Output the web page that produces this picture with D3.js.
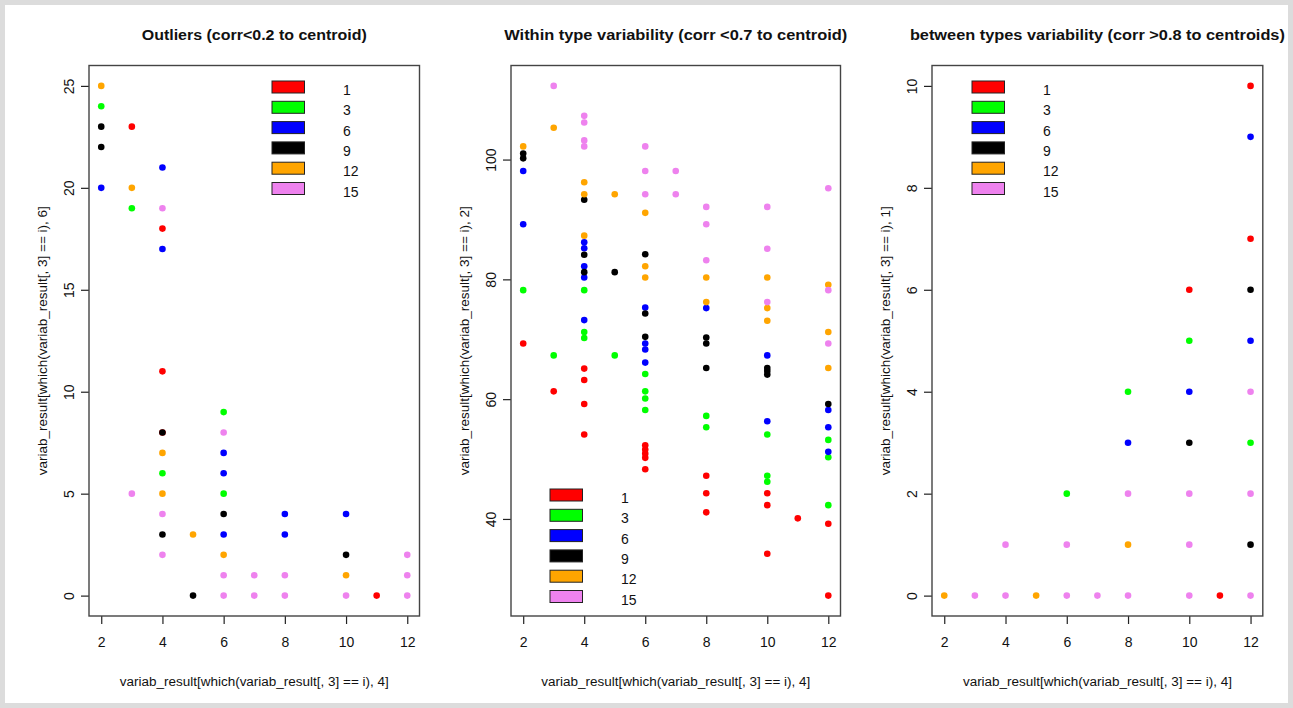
<!DOCTYPE html>
<html>
<head>
<meta charset="utf-8">
<script src="https://cdn.jsdelivr.net/npm/d3@7"></script>
<style>
body { margin: 0; background: #dcdcdc; }
svg { display: block; font-family: "Liberation Sans", Arial, sans-serif; }
</style>
</head>
<body>
<div id="chart"></div>
<script>
var types = [1, 3, 6, 9, 12, 15]
var typeColors = ["#ff0000", "#00ff00", "#0000ff", "#000000", "#ffa500", "#ee82ee"]
var xTicks = [2, 4, 6, 8, 10, 12]

// each row: [type, x, y]
var outlierPoints = [
    [1, 3, 23], [1, 4, 18], [1, 4, 11], [1, 4, 8], [1, 11, 0],
    [3, 2, 24], [3, 3, 19], [3, 4, 6], [3, 6, 9], [3, 6, 5],
    [6, 2, 20], [6, 4, 21], [6, 4, 17], [6, 6, 7], [6, 6, 6], [6, 6, 3], [6, 8, 4], [6, 8, 3], [6, 10, 4],
    [9, 2, 23], [9, 2, 22], [9, 4, 8], [9, 4, 3], [9, 5, 0], [9, 6, 4], [9, 10, 2],
    [12, 2, 25], [12, 3, 20], [12, 4, 7], [12, 4, 5], [12, 5, 3], [12, 6, 2], [12, 10, 1],
    [15, 3, 5], [15, 4, 19], [15, 4, 4], [15, 4, 2], [15, 6, 8], [15, 6, 1], [15, 6, 0], [15, 7, 1], [15, 7, 0],
    [15, 8, 1], [15, 8, 0], [15, 10, 0], [15, 12, 2], [15, 12, 1], [15, 12, 0]
]

var withinPoints = [
    [1, 2, 69.3], [1, 3, 61.3], [1, 4, 65.1], [1, 4, 63.2], [1, 4, 59.2], [1, 4, 54.1],
    [1, 6, 52.3], [1, 6, 51.6], [1, 6, 50.9], [1, 6, 50.2], [1, 6, 48.3],
    [1, 8, 47.2], [1, 8, 44.3], [1, 8, 41.1], [1, 10, 44.3], [1, 10, 42.3], [1, 10, 34.2],
    [1, 11, 40.1], [1, 12, 39.2], [1, 12, 27.2],
    [3, 2, 78.2], [3, 3, 67.3], [3, 4, 78.2], [3, 4, 71.2], [3, 4, 70.2], [3, 5, 67.3],
    [3, 6, 64.2], [3, 6, 61.3], [3, 6, 60.1], [3, 6, 58.2], [3, 8, 57.2], [3, 8, 55.3],
    [3, 10, 54.1], [3, 10, 47.2], [3, 10, 46.2], [3, 12, 53.2], [3, 12, 50.3], [3, 12, 42.3],
    [6, 2, 98.1], [6, 2, 89.2], [6, 4, 86.2], [6, 4, 85.2], [6, 4, 82.2], [6, 4, 80.3], [6, 4, 73.2],
    [6, 6, 75.3], [6, 6, 69.3], [6, 6, 68.3], [6, 6, 66.1], [6, 8, 75.2], [6, 10, 67.3], [6, 10, 56.3],
    [6, 12, 58.2], [6, 12, 55.3], [6, 12, 51.2],
    [9, 2, 101.0], [9, 2, 100.2], [9, 4, 93.3], [9, 4, 84.1], [9, 4, 81.2], [9, 5, 81.2],
    [9, 6, 84.2], [9, 6, 74.3], [9, 6, 70.4], [9, 8, 70.3], [9, 8, 69.3], [9, 8, 65.2],
    [9, 10, 65.2], [9, 10, 64.7], [9, 10, 64.1], [9, 12, 59.2],
    [12, 2, 102.2], [12, 3, 105.3], [12, 4, 96.2], [12, 4, 94.2], [12, 4, 87.3], [12, 5, 94.2],
    [12, 6, 91.1], [12, 6, 82.2], [12, 6, 80.3], [12, 8, 80.3], [12, 8, 76.2],
    [12, 10, 80.3], [12, 10, 75.2], [12, 10, 73.1], [12, 12, 79.1], [12, 12, 71.2], [12, 12, 65.2],
    [15, 3, 112.3], [15, 4, 107.3], [15, 4, 106.2], [15, 4, 103.2], [15, 4, 102.2],
    [15, 6, 102.2], [15, 6, 98.1], [15, 6, 94.2], [15, 7, 98.1], [15, 7, 94.2],
    [15, 8, 92.1], [15, 8, 89.2], [15, 8, 83.2], [15, 10, 92.1], [15, 10, 85.1], [15, 10, 76.2],
    [15, 12, 95.2], [15, 12, 78.2], [15, 12, 69.3]
]

var betweenPoints = [
    [1, 10, 6], [1, 11, 0], [1, 12, 10], [1, 12, 7],
    [3, 6, 2], [3, 8, 4], [3, 10, 5], [3, 12, 3],
    [6, 8, 3], [6, 10, 4], [6, 12, 9], [6, 12, 5],
    [9, 10, 3], [9, 12, 6], [9, 12, 1],
    [12, 2, 0], [12, 5, 0], [12, 8, 1],
    [15, 3, 0], [15, 4, 1], [15, 4, 0], [15, 6, 1], [15, 6, 0], [15, 7, 0], [15, 8, 2], [15, 8, 0],
    [15, 10, 2], [15, 10, 1], [15, 10, 0], [15, 12, 4], [15, 12, 2], [15, 12, 0]
]

var yTicksOutliers = [0, 5, 10, 15, 20, 25]
var yTicksWithin = [40, 60, 80, 100]
var yTicksBetween = [0, 2, 4, 6, 8, 10]

var panelTitles = [
    "Outliers (corr<0.2 to centroid)",
    "Within type variability (corr <0.7 to centroid)",
    "between types variability (corr >0.8 to centroids)"
]
var yLabels = [
    "variab_result[which(variab_result[, 3] == i), 6]",
    "variab_result[which(variab_result[, 3] == i), 2]",
    "variab_result[which(variab_result[, 3] == i), 1]"
]
var xLabel = "variab_result[which(variab_result[, 3] == i), 4]"

var width = 1293
var height = 708
var boxTop = 65.5
var boxBottom = 616

var panels = [
    {left: 89, right: 419.5, points: outlierPoints, yTicks: yTicksOutliers, legend: [272, 81], titleWidth: 225},
    {left: 511, right: 840.5, points: withinPoints, yTicks: yTicksWithin, legend: [550, 489], titleWidth: 343},
    {left: 932, right: 1262.8, points: betweenPoints, yTicks: yTicksBetween, legend: [972, 81], titleWidth: 375}
]

var svg = d3.select("#chart").append("svg")
    .attr("width", width)
    .attr("height", height)

svg.append("rect")
    .attr("x", 5).attr("y", 5)
    .attr("width", width - 10).attr("height", height - 10)
    .attr("fill", "#ffffff")

/**
 * R style range: data extent padded by 4% on each side
 */
function paddedDomain(values) {
    var ext = d3.extent(values)
    var pad = (ext[1] - ext[0]) * 0.04
    return [ext[0] - pad, ext[1] + pad]
}

/**
 * Draw one scatter panel
 */
function drawPanel(panel, idx) {
    var g = svg.append("g")
    var xScale = d3.scaleLinear()
        .domain(paddedDomain(panel.points.map(d => d[1])))
        .range([panel.left, panel.right])
    var yScale = d3.scaleLinear()
        .domain(paddedDomain(panel.points.map(d => d[2])))
        .range([boxBottom, boxTop])
    var color = d3.scaleOrdinal().domain(types).range(typeColors)
    var cx = (panel.left + panel.right) / 2

    // points, drawn type by type like the original loop
    types.forEach(function(t) {
        g.append("g").selectAll("circle")
            .data(panel.points.filter(d => d[0] == t))
            .join("circle")
            .attr("cx", d => xScale(d[1]))
            .attr("cy", d => yScale(d[2]))
            .attr("r", 3.3)
            .attr("fill", color(t))
    })

    // axes
    var xAxis = d3.axisBottom(xScale).tickValues(xTicks).tickSize(8).tickPadding(13)
    var xg = g.append("g")
        .attr("transform", "translate(0," + boxBottom + ")")
        .call(xAxis)
    var yAxis = d3.axisLeft(yScale).tickValues(panel.yTicks).tickSize(8).tickPadding(0)
    var yg = g.append("g")
        .attr("transform", "translate(" + panel.left + ",0)")
        .call(yAxis)
    ;[xg, yg].forEach(function(a) {
        a.select(".domain").remove()
        a.selectAll("line").attr("stroke", "#222").attr("stroke-width", 1.2)
        a.selectAll("text").attr("font-size", 14).attr("fill", "#111")
            .attr("font-family", "Liberation Sans, Arial, sans-serif")
    })
    yg.selectAll("text")
        .attr("x", null).attr("dy", null)
        .attr("text-anchor", "middle")
        .attr("transform", "translate(-15.5,0) rotate(-90)")

    // box
    g.append("rect")
        .attr("x", panel.left).attr("y", boxTop)
        .attr("width", panel.right - panel.left).attr("height", boxBottom - boxTop)
        .attr("fill", "none").attr("stroke", "#444").attr("stroke-width", 1.4)

    // titles and labels
    g.append("text")
        .attr("x", cx).attr("y", 40)
        .attr("text-anchor", "middle")
        .attr("font-size", 14).attr("font-weight", "bold").attr("fill", "#111")
        .attr("textLength", panel.titleWidth).attr("lengthAdjust", "spacingAndGlyphs")
        .text(panelTitles[idx])
    g.append("text")
        .attr("x", cx).attr("y", 686)
        .attr("text-anchor", "middle")
        .attr("font-size", 12.5).attr("fill", "#111")
        .attr("textLength", 269).attr("lengthAdjust", "spacingAndGlyphs")
        .text(xLabel)
    g.append("text")
        .attr("transform", "translate(" + (panel.left - 42) + "," + ((boxTop + boxBottom) / 2) + ") rotate(-90)")
        .attr("text-anchor", "middle")
        .attr("font-size", 12.5).attr("fill", "#111")
        .attr("textLength", 269).attr("lengthAdjust", "spacingAndGlyphs")
        .text(yLabels[idx])

    // legend
    var lg = g.append("g").attr("transform", "translate(" + panel.legend[0] + "," + panel.legend[1] + ")")
    var rows = lg.selectAll("g").data(types).join("g")
        .attr("transform", (d, i) => "translate(0," + (i * 20.3) + ")")
    rows.append("rect")
        .attr("width", 32.5).attr("height", 12)
        .attr("fill", d => color(d))
        .attr("stroke", "#222").attr("stroke-width", 1)
    rows.append("text")
        .attr("x", 71).attr("y", 14)
        .attr("font-size", 14).attr("fill", "#111")
        .text(d => d)
}

panels.forEach(drawPanel)
</script>
</body>
</html>
